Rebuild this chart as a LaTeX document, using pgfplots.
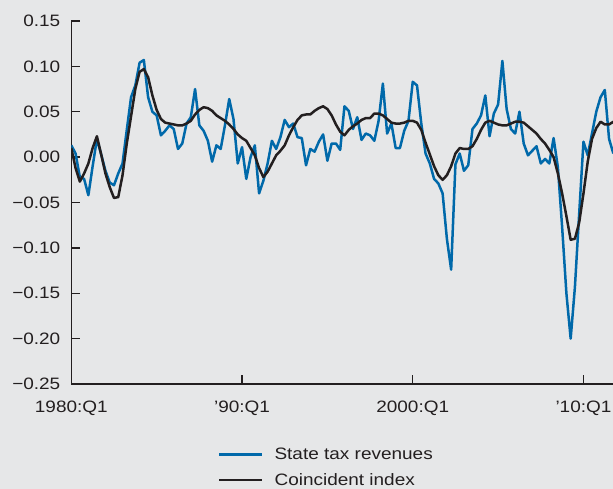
\documentclass[border=0pt]{standalone}
\usepackage{pgfplots}
\usepackage{pgfplotstable}
\pgfplotsset{compat=1.18}
\usepackage{fontspec}
\setmainfont{Liberation Sans}[FakeStretch=1.15]
\definecolor{bg}{HTML}{E6E7E8}
\definecolor{taxblue}{HTML}{0069AA}
\definecolor{ink}{HTML}{231F20}

\pgfplotstableread{
t y
1980.00 0.013
1980.25 0.004
1980.50 -0.022
1980.75 -0.024
1981.00 -0.042
1981.25 -0.010
1981.50 0.020
1981.75 0.003
1982.00 -0.015
1982.25 -0.028
1982.50 -0.031
1982.75 -0.018
1983.00 -0.007
1983.25 0.030
1983.50 0.066
1983.75 0.079
1984.00 0.104
1984.25 0.107
1984.50 0.066
1984.75 0.050
1985.00 0.046
1985.25 0.024
1985.50 0.029
1985.75 0.035
1986.00 0.031
1986.25 0.009
1986.50 0.015
1986.75 0.037
1987.00 0.044
1987.25 0.075
1987.50 0.035
1987.75 0.029
1988.00 0.018
1988.25 -0.005
1988.50 0.013
1988.75 0.009
1989.00 0.035
1989.25 0.064
1989.50 0.042
1989.75 -0.007
1990.00 0.011
1990.25 -0.024
1990.50 0.000
1990.75 0.013
1991.00 -0.040
1991.25 -0.026
1991.50 -0.007
1991.75 0.018
1992.00 0.009
1992.25 0.022
1992.50 0.041
1992.75 0.033
1993.00 0.037
1993.25 0.022
1993.50 0.021
1993.75 -0.009
1994.00 0.009
1994.25 0.006
1994.50 0.017
1994.75 0.025
1995.00 -0.004
1995.25 0.015
1995.50 0.015
1995.75 0.008
1996.00 0.056
1996.25 0.051
1996.50 0.031
1996.75 0.044
1997.00 0.019
1997.25 0.026
1997.50 0.024
1997.75 0.018
1998.00 0.040
1998.25 0.081
1998.50 0.026
1998.75 0.037
1999.00 0.010
1999.25 0.010
1999.50 0.029
1999.75 0.040
2000.00 0.083
2000.25 0.079
2000.50 0.037
2000.75 0.004
2001.00 -0.007
2001.25 -0.024
2001.50 -0.029
2001.75 -0.040
2002.00 -0.090
2002.25 -0.124
2002.50 -0.008
2002.75 0.004
2003.00 -0.015
2003.25 -0.009
2003.50 0.031
2003.75 0.037
2004.00 0.046
2004.25 0.068
2004.50 0.023
2004.75 0.048
2005.00 0.058
2005.25 0.106
2005.50 0.053
2005.75 0.031
2006.00 0.026
2006.25 0.050
2006.50 0.015
2006.75 0.002
2007.00 0.007
2007.25 0.012
2007.50 -0.007
2007.75 -0.002
2008.00 -0.007
2008.25 0.021
2008.50 -0.011
2008.75 -0.077
2009.00 -0.150
2009.25 -0.200
2009.50 -0.143
2009.75 -0.062
2010.00 0.017
2010.25 0.002
2010.50 0.026
2010.75 0.050
2011.00 0.066
2011.25 0.074
2011.50 0.020
2011.75 0.004
}\taxdata

\pgfplotstableread{
t y
1980.00 0.010
1980.25 -0.012
1980.50 -0.027
1980.75 -0.018
1981.00 -0.007
1981.25 0.010
1981.50 0.023
1981.75 0.003
1982.00 -0.018
1982.25 -0.033
1982.50 -0.045
1982.75 -0.044
1983.00 -0.020
1983.25 0.015
1983.50 0.045
1983.75 0.075
1984.00 0.094
1984.25 0.097
1984.50 0.088
1984.75 0.068
1985.00 0.052
1985.25 0.042
1985.50 0.038
1985.75 0.037
1986.00 0.036
1986.25 0.035
1986.50 0.035
1986.75 0.037
1987.00 0.040
1987.25 0.047
1987.50 0.052
1987.75 0.055
1988.00 0.054
1988.25 0.051
1988.50 0.046
1988.75 0.043
1989.00 0.040
1989.25 0.036
1989.50 0.031
1989.75 0.025
1990.00 0.021
1990.25 0.018
1990.50 0.010
1990.75 0.002
1991.00 -0.012
1991.25 -0.022
1991.50 -0.016
1991.75 -0.007
1992.00 0.002
1992.25 0.007
1992.50 0.013
1992.75 0.024
1993.00 0.033
1993.25 0.041
1993.50 0.046
1993.75 0.047
1994.00 0.047
1994.25 0.051
1994.50 0.054
1994.75 0.056
1995.00 0.053
1995.25 0.046
1995.50 0.036
1995.75 0.028
1996.00 0.024
1996.25 0.030
1996.50 0.034
1996.75 0.037
1997.00 0.041
1997.25 0.043
1997.50 0.043
1997.75 0.048
1998.00 0.048
1998.25 0.046
1998.50 0.042
1998.75 0.038
1999.00 0.037
1999.25 0.037
1999.50 0.038
1999.75 0.040
2000.00 0.040
2000.25 0.038
2000.50 0.030
2000.75 0.016
2001.00 0.003
2001.25 -0.010
2001.50 -0.020
2001.75 -0.025
2002.00 -0.020
2002.25 -0.010
2002.50 0.004
2002.75 0.010
2003.00 0.009
2003.25 0.009
2003.50 0.012
2003.75 0.020
2004.00 0.030
2004.25 0.038
2004.50 0.040
2004.75 0.038
2005.00 0.036
2005.25 0.035
2005.50 0.035
2005.75 0.037
2006.00 0.039
2006.25 0.039
2006.50 0.038
2006.75 0.034
2007.00 0.030
2007.25 0.026
2007.50 0.020
2007.75 0.015
2008.00 0.008
2008.25 0.000
2008.50 -0.018
2008.75 -0.040
2009.00 -0.065
2009.25 -0.091
2009.50 -0.090
2009.75 -0.072
2010.00 -0.040
2010.25 -0.005
2010.50 0.020
2010.75 0.032
2011.00 0.039
2011.25 0.036
2011.50 0.036
2011.75 0.039
}\coindata

\begin{document}
\begin{tikzpicture}
\useasboundingbox (0pt,0pt) rectangle (613pt,489pt);
\fill[bg] (0pt,0pt) rectangle (613pt,489pt);
\begin{axis}[
  at={(71.3pt,105pt)}, anchor=south west, scale only axis,
  width=541.7pt, height=363pt,
  xmin=1980, xmax=2011.73, ymin=-0.25, ymax=0.15,
  axis x line=bottom, axis y line=left,
  axis line style={-, ink, line width=1.5pt},
  tick align=inside, major tick length=8.5pt,
  tick style={ink, line width=1.3pt},
  xtick={1980,1990,2000,2010},
  xticklabels={1980:Q1, ’90:Q1, 2000:Q1, ’10:Q1},
  ytick={-0.25,-0.20,-0.15,-0.10,-0.05,0,0.05,0.10,0.15},
  yticklabels={−0.25,−0.20,−0.15,−0.10,−0.05,0.00,0.05,0.10,0.15},
  ticklabel style={font=\fontsize{16.5}{19}\selectfont, text=ink},
  xticklabel style={yshift=-13pt},
  yticklabel style={xshift=-7.5pt},
  legend style={at={(0.265,-0.165)}, anchor=north west, draw=none, fill=none,
    font=\fontsize{16.5}{19}\selectfont, text=ink, row sep=8pt,
    cells={anchor=west},
    /tikz/every odd column/.append style={column sep=9pt}},
  legend image code/.code={\draw[#1] (0pt,0pt) -- (43pt,0pt);},
  clip=true,
]
\addplot[taxblue, line width=2.5pt, line join=round] table[x=t,y=y] {\taxdata};
\addlegendentry{State tax revenues}
\addplot[ink, line width=2.5pt, line join=round] table[x=t,y=y] {\coindata};
\addlegendentry{Coincident index}
\end{axis}
\end{tikzpicture}
\end{document}
